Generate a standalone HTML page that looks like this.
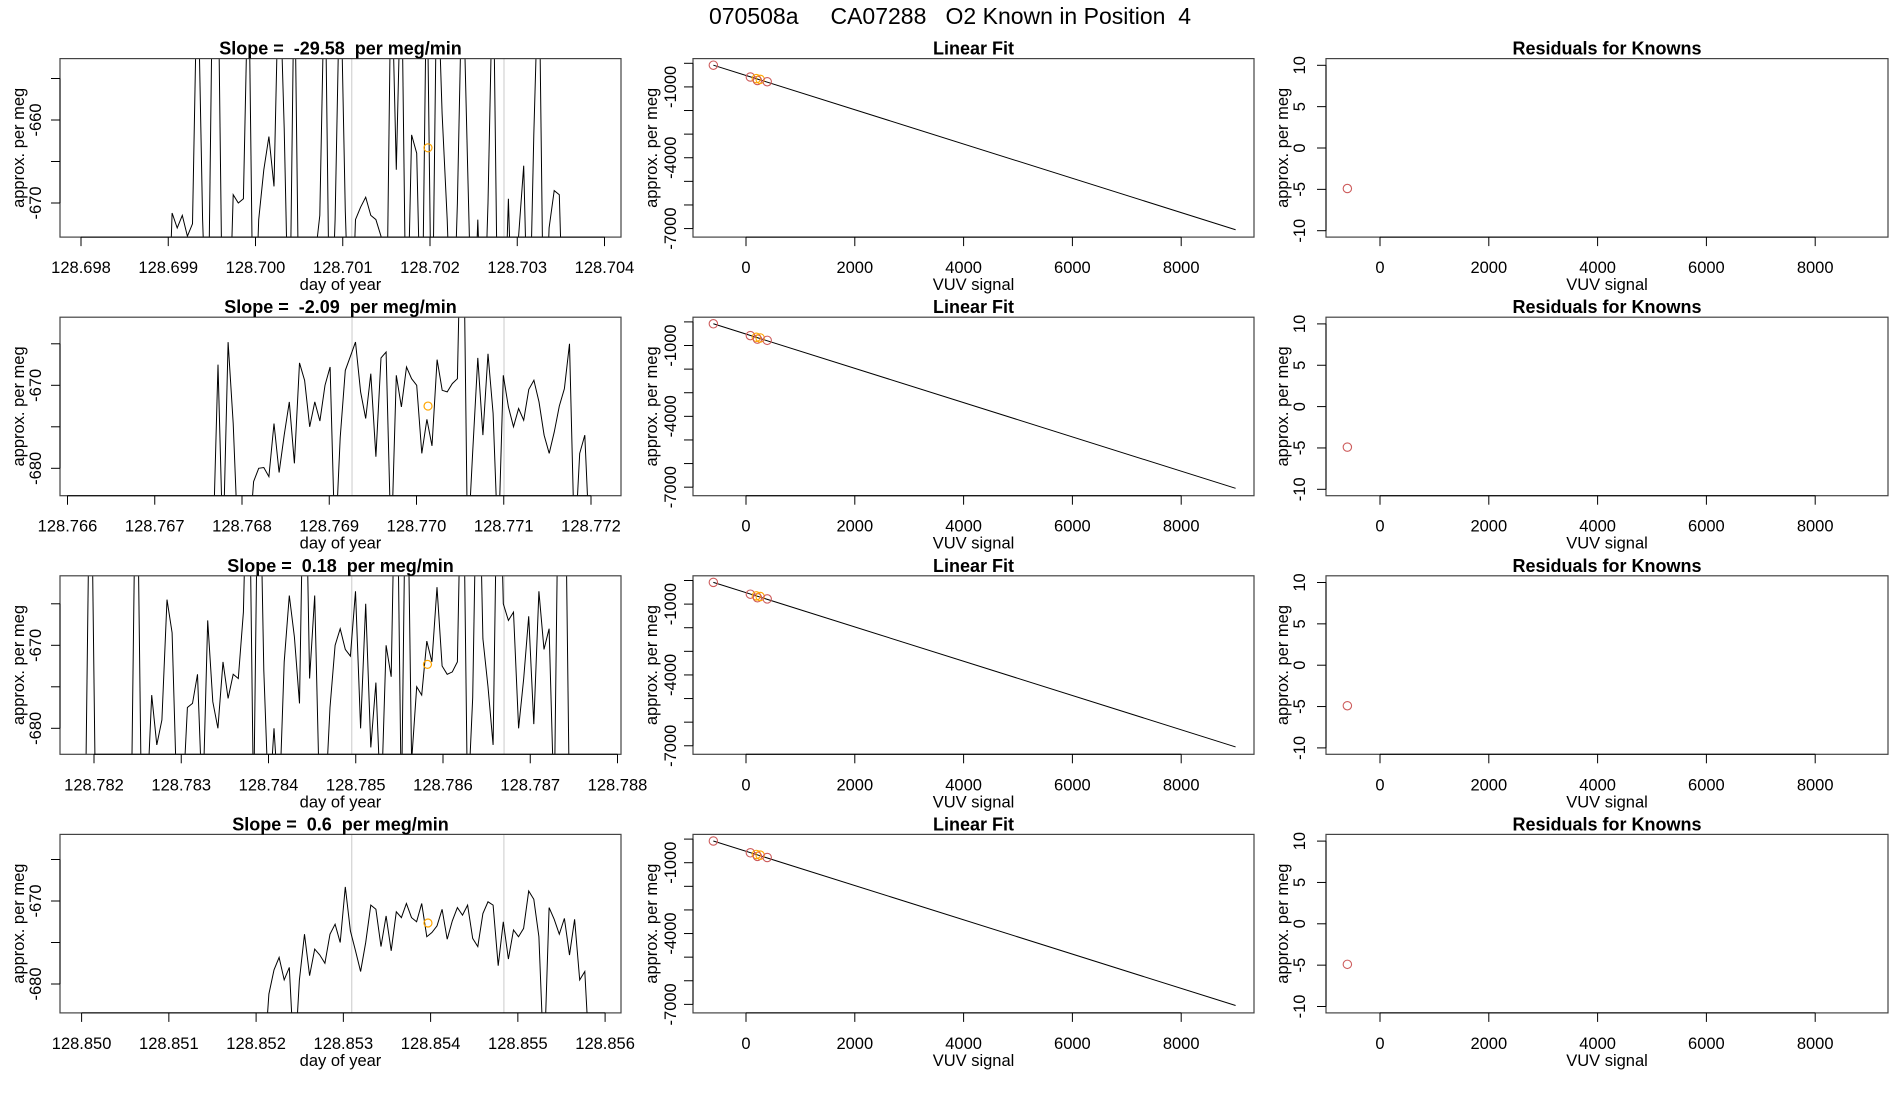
<!DOCTYPE html>
<html><head><meta charset="utf-8"><style>
html,body{margin:0;padding:0;background:#fff;}
svg{display:block;font-family:"Liberation Sans",Arial,sans-serif;}
svg text{white-space:pre;}
</style></head><body>
<svg id="fig" width="1900" height="1100" viewBox="0 0 1900 1100" xmlns="http://www.w3.org/2000/svg" xml:space="preserve">
<text x="950" y="24" text-anchor="middle" font-size="23">070508a     CA07288   O2 Known in Position  4</text>
</svg>
<script>
// ---- time-series data (approx. per meg); -690 = below range, -640 = above range ----
const tsTitles = ["Slope =  -29.58  per meg/min","Slope =  -2.09  per meg/min","Slope =  0.18  per meg/min","Slope =  0.6  per meg/min"];
const tsTickStart = [128.698, 128.766, 128.782, 128.850];
const tsStart = [128.697759, 128.765914, 128.781610, 128.849752];
const tsStep = 0.0000584;
const tsGrayLines = [[128.701103,128.702848],[128.769261,128.771003],[128.784954,128.786700],[128.853096,128.854840]];
const tsKnownDay = [128.701977, 128.770132, 128.785822, 128.853970];
const tsKnownVal = [-663.35, -672.5, -672.3, -672.65];
const B=-690, T=-640;
const series1 = [B,B,B,B,B,B,B,B,B,B,B,B,B,B,B,B,B,B,B,B,B,B,
 -671.2,-673,-671.5,-674,-672.5,T,-672,B,T,T,B,B,-669,-670,-669.5,T,B,-672,-666,-662,-668,T,-661,B,T,B,B,B,
 -677,-671.5,T,B,-672,T,-671,B,-672,-670.5,-669.3,-671.5,-672,-674,B,T,-666,T,B,-661.8,-664,B,T,B,T,-659.2,
 -672,B,-670,T,-665.5,B,-672,B,-670,T,B,B,-669.5,B,-674,-665.5,B,-661.8,T,B,-673,-668.5,-669,B,B,B,B,B,B,B,B,B,B,B,B];
const series2 = [B,B,B,B,B,B,B,B,B,B,B,B,B,B,B,B,B,B,B,B,B,B,B,B,B,B,B,B,B,B,B,
 -667.5,B,-664.8,-674.6,B,B,B,-681.6,-680,-679.9,-681,-674.6,-680.5,-676,-672,-679.4,-667.3,-669.4,-675,-672,-674.3,-670,-667.8,B,
 -676.3,-668.2,-666.5,-664.8,-670.8,-674,-668.6,-678.6,-666.7,-666,B,-668.8,-672.6,-667.8,-669.2,-670,-678.2,-674.1,-677.3,-666.9,
 -670.6,-670.8,-669.8,-669.2,T,B,-678,-666.7,-676,-666.2,-673.4,B,-668.8,-672.6,-675,-672.8,-674.2,-670.5,-669.4,-672,-676,-678.2,
 -675.6,-672.5,-670.4,-665,B,-678.2,-676,B,B,B,B,B,B,B];
const series3 = [B,B,B,B,B,B,T,B,B,B,B,B,B,B,B,T,B,B,-676,-682,-679,-664.5,-668.5,B,B,-677.5,-677,-673.5,B,-667,-676.8,-680,
 -672,-676.4,-673.5,-674,-666,T,B,T,-673,B,-680,B,-672,-664,-669,-677,T,-674,-664,B,B,-677.5,-670,-668,-670.5,-671.3,-663.5,-680,
 -665,-682.3,-674.5,B,-670,-673.8,T,B,T,-684,-675,-676,-669.5,-672,-663,-672.5,-673.5,-673.2,-672,T,B,-676.3,T,-669.2,-675,-682,
 T,-665,-667,-666,-680,-674,-666.5,-679.5,-663.5,-670.5,-668,B,T,T,B,B,B,B,B,B,B,B,B,B,B];
const series4 = [B,B,B,B,B,B,B,B,B,B,B,B,B,B,B,B,B,B,B,B,B,B,B,B,B,B,B,B,B,B,B,B,B,B,B,B,B,B,B,
 -684,B,-681.2,-678.3,-676.8,-679.5,-678,B,-679.5,-674,-679,-675.8,-676.5,-677.5,-674,-672.8,-675,-668.3,-673.6,-676,-678.5,-675,
 -670.5,-671,-675.5,-671.8,-676,-671.3,-672,-670.3,-672,-672.5,-670.3,-674.3,-673.8,-673,-671,-674.6,-672.4,-670.8,-671.7,-670.5,
 -674.5,-675.5,-671.5,-670.1,-670.5,-677.8,-672.5,-677,-673.5,-674.3,-673.3,-668.8,-669.8,-674.3,B,-670.8,-672.2,-674,-672.1,-676.5,
 -672.2,-679.5,-678.5,B,B,B,B,B,B,B];
const tsSeries = [series1, series2, series3, series4];
const tsYTicks = [[-655,-660,-665,-670],[-665,-670,-675,-680],[-665,-670,-675,-680],[-665,-670,-675,-680]];
const tsYLabels = [[-660,-670],[-670,-680],[-670,-680],[-670,-680]];
const tsYRef = [203, 385.3, 645.3, 901];  // pixel y of -670 per row (layout)

// ---- linear fit data ----
const fitX = [-600, 80, 190, 210, 260, 390];
const fitY = [-80, -580, -650, -730, -680, -780];
const fitKnown = [false,false,true,false,true,false];
const fitIntercept = -515, fitSlope = -0.726;
const fitLineX = [-600, 9000];
const fitYTicks = [0,-1000,-2000,-3000,-4000,-5000,-6000,-7000];
const fitYLabels = [-1000,-4000,-7000];
const vuvTicks = [0,2000,4000,6000,8000];
// ---- residuals ----
const residX = [-600];
const residY = [-4.9];
const residTicks = [-10,-5,0,5,10];

const NS="http://www.w3.org/2000/svg";
const svg=document.getElementById('fig');
function el(tag, attrs, parent){const e=document.createElementNS(NS,tag);for(const k in attrs)e.setAttribute(k,attrs[k]);(parent||svg).appendChild(e);return e;}
function txt(s, attrs, parent){const e=el('text',attrs,parent);e.textContent=s;return e;}

const ROWH=258.6, BOXTOP=58.6, BOXH=178.5;
const cols=[{l:60,r:621},{l:693,r:1254},{l:1326,r:1888}];
const FS=16.5, TFS=18;
let clipN=0;
function clipFor(c,top){const id='clip'+(clipN++);const cp=el('clipPath',{id:id});el('rect',{x:c.l,y:top,width:c.r-c.l,height:BOXH},cp);return id;}

for(let r=0;r<4;r++){
  const top=BOXTOP+ROWH*r, bot=top+BOXH;
  // ===== column 1: time series =====
  {
    const c=cols[0];
    const g=el('g',{});
    
    
    const tick0=tsTickStart[r];
    const x0 = r===0?81:(r===1?67.5:(r===2?94:81.6));
    const sx=d=>x0+(d-tick0)*87250;
    const sy=v=>tsYRef[r]+(-670-v)*8.3;
    const cid=clipFor(c,top);
    tsGrayLines[r].forEach(d=>{
      const ln=el('line',{x1:sx(d),x2:sx(d),y1:top,y2:bot,stroke:'#d3d3d3','stroke-width':1.2},g);
      
      
    });
    const pts=tsSeries[r].map((v,i)=>sx(tsStart[r]+i*tsStep).toFixed(1)+','+sy(v).toFixed(1)).join(' ');
    const pl=el('polyline',{points:pts,fill:'none',stroke:'#000','stroke-width':1,'clip-path':'url(#'+cid+')'},g);
    
    
    const kc=el('circle',{cx:sx(tsKnownDay[r]),cy:sy(tsKnownVal[r]),r:4,fill:'none',stroke:'#FFA500','stroke-width':1.2},g);
    
    
    const bx=el('rect',{x:c.l,y:top,width:c.r-c.l,height:BOXH,fill:'none',stroke:'#444','stroke-width':1.2},g);
    
    
    const xa=el('g',{},g);
    
    
    el('line',{x1:sx(tick0),x2:sx(tick0+0.006),y1:bot,y2:bot,stroke:'#000'},xa);
    for(let k=0;k<=6;k++){
      const d=tick0+k*0.001, x=sx(d);
      el('line',{x1:x,x2:x,y1:bot,y2:bot+9,stroke:'#000'},xa);
      txt(d.toFixed(3),{x:x,y:bot+36,'text-anchor':'middle','font-size':FS},xa);
    }
    const xt=txt('day of year',{x:(c.l+c.r)/2,y:bot+53,'text-anchor':'middle','font-size':FS},g);
    
    
    const ya=el('g',{},g);
    
    
    const yt=tsYTicks[r];
    el('line',{x1:c.l,x2:c.l,y1:sy(yt[0]),y2:sy(yt[yt.length-1]),stroke:'#000'},ya);
    yt.forEach(v=>el('line',{x1:c.l-9,x2:c.l,y1:sy(v),y2:sy(v),stroke:'#000'},ya));
    tsYLabels[r].forEach(v=>{const y=sy(v);txt(String(v),{x:0,y:0,'text-anchor':'middle','font-size':FS,transform:'translate(41,'+y+') rotate(-90)'},ya);});
    const yl=txt('approx. per meg',{x:0,y:0,'text-anchor':'middle','font-size':FS,transform:'translate(24,'+(top+BOXH/2)+') rotate(-90)'},g);
    
    
    const tt=txt(tsTitles[r],{x:(c.l+c.r)/2,y:top-4,'text-anchor':'middle','font-size':TFS,'font-weight':'bold'},g);
    
    
  }
  // ===== column 2: linear fit =====
  {
    const c=cols[1];
    const g=el('g',{});
    
    
    const sx=v=>746+v*0.0544;
    const sy=v=>top+4.7+(-v)*0.02361;
    const cid=clipFor(c,top);
    const ln=el('line',{x1:sx(fitLineX[0]),y1:sy(fitIntercept+fitSlope*fitLineX[0]),x2:sx(fitLineX[1]),y2:sy(fitIntercept+fitSlope*fitLineX[1]),stroke:'#000','stroke-width':1,'clip-path':'url(#'+cid+')'},g);
    
    
    fitX.forEach((x,i)=>{
      const p=el('circle',{cx:sx(x),cy:sy(fitY[i]),r:4.2,fill:'none',stroke:fitKnown[i]?'#FFA500':'#CD5C5C','stroke-width':1.1},g);
      
      
    });
    const bx=el('rect',{x:c.l,y:top,width:c.r-c.l,height:BOXH,fill:'none',stroke:'#444','stroke-width':1.2},g);
    
    
    const xa=el('g',{},g);
    
    
    el('line',{x1:sx(vuvTicks[0]),x2:sx(vuvTicks[vuvTicks.length-1]),y1:bot,y2:bot,stroke:'#000'},xa);
    vuvTicks.forEach(v=>{const x=sx(v);el('line',{x1:x,x2:x,y1:bot,y2:bot+9,stroke:'#000'},xa);txt(String(v),{x:x,y:bot+36,'text-anchor':'middle','font-size':FS},xa);});
    const xt=txt('VUV signal',{x:(c.l+c.r)/2,y:bot+53,'text-anchor':'middle','font-size':FS},g);
    
    
    const ya=el('g',{},g);
    
    
    el('line',{x1:c.l,x2:c.l,y1:sy(fitYTicks[0]),y2:sy(fitYTicks[fitYTicks.length-1]),stroke:'#000'},ya);
    fitYTicks.forEach(v=>el('line',{x1:c.l-9,x2:c.l,y1:sy(v),y2:sy(v),stroke:'#000'},ya));
    fitYLabels.forEach(v=>{txt(String(v),{x:0,y:0,'text-anchor':'middle','font-size':FS,transform:'translate(676,'+sy(v)+') rotate(-90)'},ya);});
    const yl=txt('approx. per meg',{x:0,y:0,'text-anchor':'middle','font-size':FS,transform:'translate(657,'+(top+BOXH/2)+') rotate(-90)'},g);
    
    
    const tt=txt('Linear Fit',{x:(c.l+c.r)/2,y:top-4,'text-anchor':'middle','font-size':TFS,'font-weight':'bold'},g);
    
    
  }
  // ===== column 3: residuals =====
  {
    const c=cols[2];
    const g=el('g',{});
    
    
    const sx=v=>1380+v*0.0544;
    const sy=v=>top+89.4-v*8.27;
    residX.forEach((x,i)=>{
      const p=el('circle',{cx:sx(x),cy:sy(residY[i]),r:4.2,fill:'none',stroke:'#CD5C5C','stroke-width':1.1},g);
      
      
    });
    const bx=el('rect',{x:c.l,y:top,width:c.r-c.l,height:BOXH,fill:'none',stroke:'#444','stroke-width':1.2},g);
    
    
    const xa=el('g',{},g);
    
    
    el('line',{x1:sx(vuvTicks[0]),x2:sx(vuvTicks[vuvTicks.length-1]),y1:bot,y2:bot,stroke:'#000'},xa);
    vuvTicks.forEach(v=>{const x=sx(v);el('line',{x1:x,x2:x,y1:bot,y2:bot+9,stroke:'#000'},xa);txt(String(v),{x:x,y:bot+36,'text-anchor':'middle','font-size':FS},xa);});
    const xt=txt('VUV signal',{x:(c.l+c.r)/2,y:bot+53,'text-anchor':'middle','font-size':FS},g);
    
    
    const ya=el('g',{},g);
    
    
    el('line',{x1:c.l,x2:c.l,y1:sy(residTicks[0]),y2:sy(residTicks[residTicks.length-1]),stroke:'#000'},ya);
    residTicks.forEach(v=>{el('line',{x1:c.l-9,x2:c.l,y1:sy(v),y2:sy(v),stroke:'#000'},ya);txt(String(v),{x:0,y:0,'text-anchor':'middle','font-size':FS,transform:'translate(1305,'+sy(v)+') rotate(-90)'},ya);});
    const yl=txt('approx. per meg',{x:0,y:0,'text-anchor':'middle','font-size':FS,transform:'translate(1288,'+(top+BOXH/2)+') rotate(-90)'},g);
    
    
    const tt=txt('Residuals for Knowns',{x:(c.l+c.r)/2,y:top-4,'text-anchor':'middle','font-size':TFS,'font-weight':'bold'},g);
    
    
  }
}
</script>
</body></html>
